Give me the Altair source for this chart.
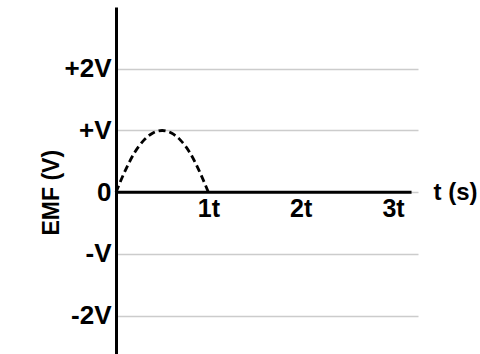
import altair as alt
import pandas as pd

# Dashed EMF pulse over the first interval (time in units of t, EMF in units of V)
t_curve = [0.0, 0.1, 0.2, 0.3, 0.4, 0.5, 0.6, 0.7, 0.8, 0.9, 1.0]
emf_curve = [0.0, 0.35, 0.64, 0.84, 0.96, 1.0, 0.96, 0.84, 0.64, 0.35, 0.0]

# Axis ticks and their labels
x_ticks = [1, 2, 3]
x_labels = ["1t", "2t", "3t"]
y_ticks = [-2, -1, 0, 1, 2]
y_labels = ["-2V", "-V", "0", "+V", "+2V"]

# Extent of the time axis line and the scale domains
t_axis_end = 3.2
x_domain = [0, 3.27]
y_domain = [-2.62, 3.0]

W, H = 302, 347
FONT = "Liberation Sans"


def label_expr(values, labels):
    expr = "''"
    for v, lab in zip(reversed(values), reversed(labels)):
        expr = f"datum.value == {v} ? '{lab}' : ({expr})"
    return expr


curve = pd.DataFrame({"t": t_curve, "emf": emf_curve})
baseline = pd.DataFrame({"t": [0.0], "t2": [t_axis_end], "emf": [0.0]})

# pixel row of EMF = 0, where the time axis sits
zero_px = y_domain[1] / (y_domain[1] - y_domain[0]) * H

x_enc = alt.X(
    "t:Q",
    scale=alt.Scale(domain=x_domain, nice=False, zero=False),
    axis=alt.Axis(
        values=x_ticks,
        labelExpr=label_expr(x_ticks, x_labels),
        grid=False,
        domain=False,
        ticks=False,
        offset=-(H - zero_px),
        labelFont=FONT,
        labelFontSize=25,
        labelFontWeight="bold",
        labelColor="black",
        labelPadding=4,
        labelFlush=False,
        title="t (s)",
        titleFont=FONT,
        titleFontSize=24,
        titleFontWeight="bold",
        titleColor="black",
        titleX=317,
        titleY=0,
        titleAlign="left",
        titleBaseline="middle",
        titleAngle=0,
    ),
)

y_enc = alt.Y(
    "emf:Q",
    scale=alt.Scale(domain=y_domain, nice=False, zero=False),
    axis=alt.Axis(
        values=y_ticks,
        labelExpr=label_expr(y_ticks, y_labels),
        grid=True,
        gridColor="#cccccc",
        gridWidth=1.5,
        domain=True,
        domainColor="black",
        domainWidth=3,
        ticks=False,
        labelFont=FONT,
        labelFontSize=26,
        labelFontWeight="bold",
        labelColor="black",
        labelPadding=5,
        labelFlush=False,
        title="EMF (V)",
        titleFont=FONT,
        titleFontSize=23,
        titleFontWeight="bold",
        titleColor="black",
        titleX=-65,
        titleY=zero_px,
        titleAngle=270,
        titleAlign="center",
        titleBaseline="middle",
    ),
)

time_axis = (
    alt.Chart(baseline)
    .mark_rule(color="black", strokeWidth=3)
    .encode(x=x_enc, x2="t2:Q", y=y_enc)
)

pulse = (
    alt.Chart(curve)
    .mark_line(color="black", strokeWidth=2.8, strokeDash=[7, 4], interpolate="monotone")
    .encode(x="t:Q", y="emf:Q")
)

chart = (
    alt.layer(time_axis, pulse)
    .properties(
        width=W,
        height=H,
        autosize=alt.AutoSizeParams(type="none"),
        padding={"left": 116, "top": 7, "right": 62, "bottom": 0},
        background="white",
    )
    .configure_view(stroke=None)
)

chart.save("out.html", embed_options={"renderer": "svg", "actions": False})
